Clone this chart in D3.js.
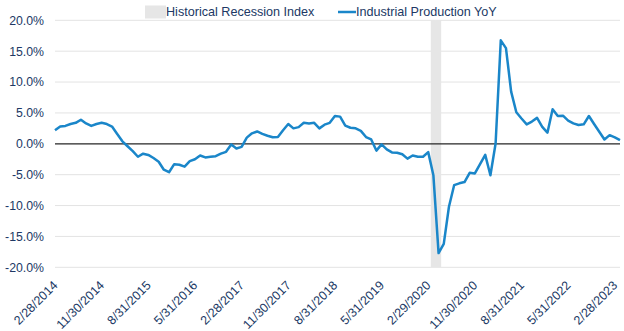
<!DOCTYPE html>
<html>
<head>
<meta charset="utf-8">
<script src="https://cdn.jsdelivr.net/npm/d3@7"></script>
<style>
  html, body { margin: 0; padding: 0; background: #fff; }
  svg { display: block; }
  text { font-family: "Liberation Sans", Arial, sans-serif; }
</style>
</head>
<body>
<svg id="chart" width="624" height="331"></svg>
<script>
// ---- data ----
const startMonth = [2014, 2];   // February 2014 (month-end observations)
const monthCount = 110;          // Feb 2014 .. Mar 2023
const ipYoY = [
  2.2, 2.8, 2.9, 3.2, 3.4, 3.9, 3.3, 2.9, 3.2, 3.4,
  3.2, 2.8, 1.6, 0.4, -0.4, -1.2, -2.1, -1.6, -1.8, -2.3,
  -2.9, -4.2, -4.6, -3.3, -3.4, -3.7, -2.8, -2.5, -1.9, -2.2,
  -2.1, -2.0, -1.6, -1.3, -0.1, -0.75, -0.5, 1.0, 1.7, 2.0,
  1.6, 1.3, 1.05, 1.1, 2.2, 3.2, 2.5, 2.7, 3.4, 3.3,
  3.4, 2.5, 3.1, 3.4, 4.5, 4.4, 2.95, 2.6, 2.5, 2.1,
  1.1, 0.7, -1.1, -0.1, -0.9, -1.4, -1.45, -1.7, -2.4, -1.9,
  -2.1, -2.1, -1.35, -5.1, -17.7, -16.2, -10.2, -6.7, -6.4, -6.2,
  -4.7, -4.8, -3.3, -1.8, -5.1, 0.05, 16.75, 15.5, 8.45, 5.1,
  4.1, 3.15, 3.6, 4.2, 2.75, 1.8, 5.6, 4.5, 4.55, 3.75,
  3.3, 3.05, 3.15, 4.5, 3.2, 1.95, 0.7, 1.4, 1.05, 0.6
];
const recessionMonths = ["3/31/2020", "4/30/2020"];
const xTickLabels = ["2/28/2014", "11/30/2014", "8/31/2015", "5/31/2016", "2/28/2017",
  "11/30/2017", "8/31/2018", "5/31/2019", "2/29/2020", "11/30/2020", "8/31/2021",
  "5/31/2022", "2/28/2023"];
const yTicks = [-20, -15, -10, -5, 0, 5, 10, 15, 20];
const legendLabels = ["Historical Recession Index", "Industrial Production YoY"];

// ---- categories: month-end dates ----
const fmt = d3.timeFormat("%-m/%-d/%Y");
const categories = d3.range(monthCount).map(i =>
  fmt(d3.timeDay.offset(new Date(startMonth[0], startMonth[1] + i, 1), -1)));
const data = categories.map((c, i) => ({ c, v: ipYoY[i] }));

// ---- layout ----
const svg = d3.select("#chart");
const mLeft = 55, mRight = 620, mTop = 20.3, mBottom = 267.3;
const textColor = "#203864";
const lineColor = "#1a86c9";

const x = d3.scalePoint().domain(categories).range([mLeft, mRight]);
const y = d3.scaleLinear().domain([-20, 20]).range([mBottom, mTop]);
const step = x.step();

// gridlines
svg.append("g").selectAll("line").data(yTicks.filter(t => t !== 0)).join("line")
  .attr("x1", mLeft).attr("x2", mRight)
  .attr("y1", d => y(d)).attr("y2", d => y(d))
  .attr("stroke", "#e3e3e3").attr("stroke-width", 1);

// recession band
svg.append("g").selectAll("rect").data(recessionMonths).join("rect")
  .attr("x", d => x(d) - step / 2)
  .attr("width", step)
  .attr("y", y(20)).attr("height", y(-20) - y(20))
  .attr("fill", "#e6e6e6");

// y axis labels
const yAxis = d3.axisLeft(y).tickValues(yTicks)
  .tickFormat(d => d.toFixed(1) + "%").tickSize(0).tickPadding(11);
const gy = svg.append("g").attr("transform", `translate(${mLeft},0)`).call(yAxis);
gy.select(".domain").remove();
gy.selectAll("text").attr("fill", textColor).style("font-size", "12.3px")
  .style("font-family", '"Liberation Sans", Arial, sans-serif');

// zero line
svg.append("line").attr("x1", mLeft).attr("x2", mRight)
  .attr("y1", y(0)).attr("y2", y(0))
  .attr("stroke", "#262626").attr("stroke-width", 1.3);

// x axis labels
const tickCats = categories.filter(c => xTickLabels.includes(c));
const xAxis = d3.axisBottom(x).tickValues(tickCats).tickSize(0).tickPadding(0);
const gx = svg.append("g").attr("transform", `translate(0,${mBottom})`).call(xAxis);
gx.select(".domain").remove();
gx.selectAll("text")
  .attr("fill", textColor).style("font-size", "12.5px")
  .style("font-family", '"Liberation Sans", Arial, sans-serif')
  .attr("text-anchor", "end")
  .attr("dy", null).attr("y", null)
  .attr("transform", "translate(0,16) rotate(-45)")
  .attr("dominant-baseline", "central");

// line
const line = d3.line().x(d => x(d.c)).y(d => y(d.v));
svg.append("path").datum(data)
  .attr("d", line)
  .attr("fill", "none")
  .attr("stroke", lineColor)
  .attr("stroke-width", 2.5)
  .attr("stroke-linejoin", "round");

// legend
const lg = svg.append("g");
lg.append("rect").attr("x", 145).attr("y", 5.5).attr("width", 21).attr("height", 13).attr("fill", "#e6e6e6");
lg.append("text").attr("x", 166).attr("y", 12).attr("dy", "0.35em")
  .attr("fill", textColor).style("font-size", "12.6px").text(legendLabels[0]);
lg.append("line").attr("x1", 338).attr("x2", 356).attr("y1", 12).attr("y2", 12)
  .attr("stroke", lineColor).attr("stroke-width", 2.5);
lg.append("text").attr("x", 356).attr("y", 12).attr("dy", "0.35em")
  .attr("fill", textColor).style("font-size", "12.6px").text(legendLabels[1]);
</script>
</body>
</html>
